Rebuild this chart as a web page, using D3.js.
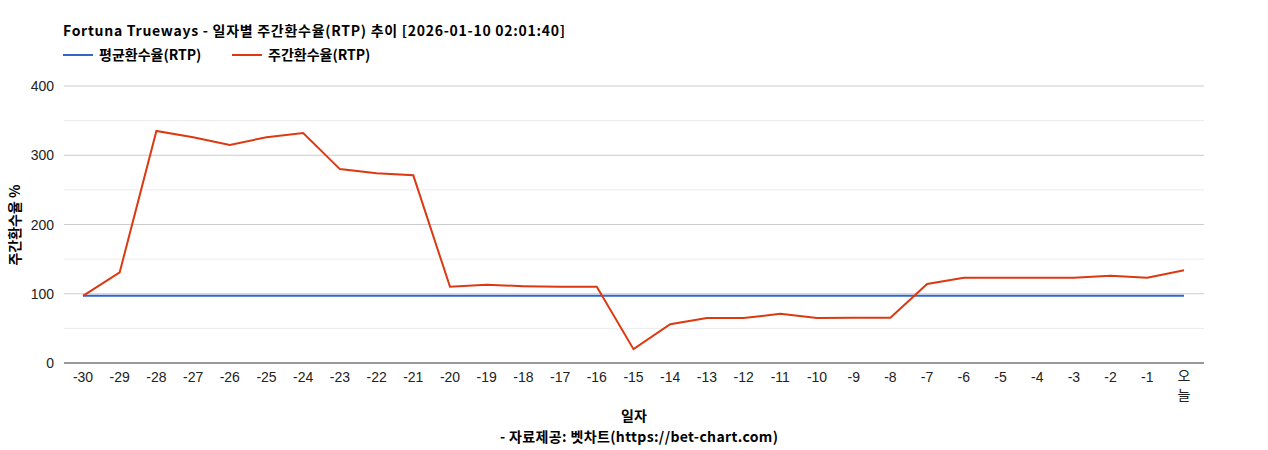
<!DOCTYPE html>
<html><head><meta charset="utf-8">
<script src="https://cdn.jsdelivr.net/npm/d3@7"></script>
<style>body{margin:0;background:#fff;font-family:Arial,"Noto Sans CJK KR",sans-serif}</style>
</head><body><svg id="c" width="1268" height="450"></svg>
<script>
const categories=["-30","-29","-28","-27","-26","-25","-24","-23","-22","-21","-20","-19","-18","-17","-16","-15","-14","-13","-12","-11","-10","-9","-8","-7","-6","-5","-4","-3","-2","-1","오늘"];
const avgRTP=[97,97,97,97,97,97,97,97,97,97,97,97,97,97,97,97,97,97,97,97,97,97,97,97,97,97,97,97,97,97,97];
const weeklyRTP=[97,131,335,326,315,326,332,280,274,271,110,113,111,110,110,20,56,65,65,71,65,65.5,65.5,114,123,123,123,123,126,123,134];
const yTicks=[0,100,200,300,400];
const minorTicks=[50,150,250,350];
const svg=d3.select("#c");
const L=64,R=1204,T=86,B=363;
const x=d3.scalePoint().domain(categories).range([83,1184]);
const y=d3.scaleLinear().domain([0,400]).range([B,T]);
const font='Arial,"Noto Sans CJK KR",sans-serif';
const bfont='"Noto Sans CJK KR",Arial,sans-serif';
svg.selectAll(".mg").data(minorTicks).join("line").attr("x1",L).attr("x2",R).attr("y1",d=>y(d)).attr("y2",d=>y(d)).attr("stroke","#ebebeb");
svg.selectAll(".g").data(yTicks.slice(1)).join("line").attr("x1",L).attr("x2",R).attr("y1",d=>y(d)).attr("y2",d=>y(d)).attr("stroke","#ccc");
svg.append("line").attr("x1",L).attr("x2",R).attr("y1",B).attr("y2",B).attr("stroke","#333");
svg.selectAll(".yt").data(yTicks).join("text").attr("x",54).attr("y",d=>y(d)+5).attr("text-anchor","end").attr("font-size",14).attr("font-family",font).attr("fill","#222").text(d=>d);
categories.forEach(c=>{
  const t=svg.append("text").attr("x",x(c)).attr("text-anchor","middle").attr("font-size",14).attr("font-family",font).attr("fill","#222");
  if(c==="오늘"){t.append("tspan").attr("x",x(c)).attr("y",381).text("오");t.append("tspan").attr("x",x(c)).attr("y",400).text("늘");}
  else t.attr("y",382).text(c);
});
const line=d3.line().x((d,i)=>x(categories[i])).y(d=>y(d));
svg.append("path").datum(avgRTP).attr("d",line).attr("fill","none").attr("stroke","#3366cc").attr("stroke-width",2);
svg.append("path").datum(weeklyRTP).attr("d",line).attr("fill","none").attr("stroke","#dc3912").attr("stroke-width",2);
svg.append("text").attr("x",63).attr("y",36).attr("font-size",14).attr("font-weight","bold").attr("font-family",bfont).attr("textLength",502).text("Fortuna Trueways - 일자별 주간환수율(RTP) 추이 [2026-01-10 02:01:40]");
svg.append("line").attr("x1",63).attr("x2",93).attr("y1",55).attr("y2",55).attr("stroke","#3366cc").attr("stroke-width",2);
svg.append("text").attr("x",99).attr("y",60).attr("font-size",14).attr("font-weight","bold").attr("font-family",bfont).text("평균환수율(RTP)");
svg.append("line").attr("x1",232).attr("x2",262).attr("y1",55).attr("y2",55).attr("stroke","#dc3912").attr("stroke-width",2);
svg.append("text").attr("x",268).attr("y",60).attr("font-size",14).attr("font-weight","bold").attr("font-family",bfont).text("주간환수율(RTP)");
svg.append("text").attr("transform","translate(20,225) rotate(-90)").attr("text-anchor","middle").attr("font-size",14).attr("font-weight","bold").attr("font-family",bfont).text("주간환수율 %");
svg.append("text").attr("x",634).attr("y",421).attr("text-anchor","middle").attr("font-size",14).attr("font-weight","bold").attr("font-family",bfont).text("일자");
svg.append("text").attr("x",639).attr("y",442).attr("text-anchor","middle").attr("font-size",14).attr("font-weight","bold").attr("font-family",bfont).attr("textLength",278).text("- 자료제공: 벳차트(https://bet-chart.com)");
</script></body></html>
